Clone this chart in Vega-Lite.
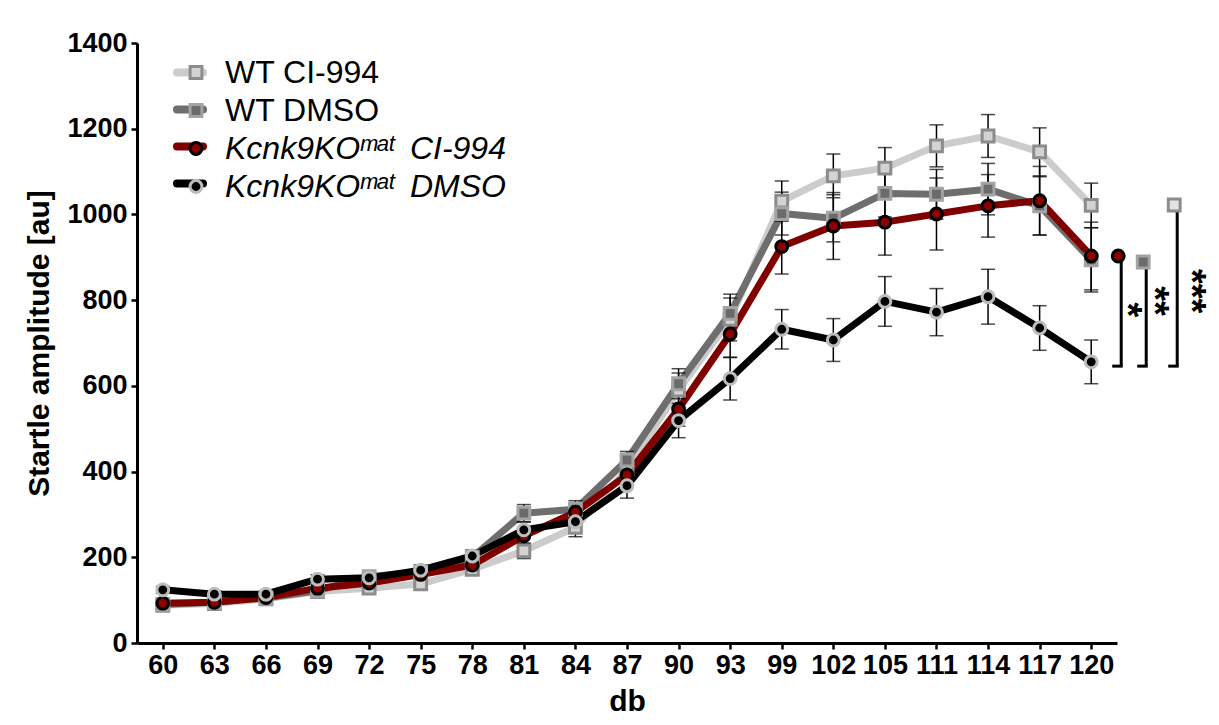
{
  "$schema": "https://vega.github.io/schema/vega-lite/v6.json",
  "width": 980,
  "height": 600,
  "autosize": {"type": "none"},
  "padding": {"left": 137, "top": 43, "right": 102, "bottom": 82},
  "background": "white",
  "config": {
    "view": {"stroke": null},
    "font": "Liberation Sans",
    "axis": {
      "domainColor": "black",
      "domainWidth": 3,
      "tickColor": "black",
      "tickWidth": 2.5,
      "tickSize": 6,
      "labelFont": "Liberation Sans",
      "labelFontSize": 27,
      "labelFontWeight": "bold",
      "labelColor": "black",
      "titleFont": "Liberation Sans",
      "titleFontSize": 30,
      "titleFontWeight": "bold",
      "titleColor": "black",
      "grid": false
    }
  },
  "datasets": {
    "main": [
      {"series": "WT CI-994", "db": 60, "v": 88, "sem": 8},
      {"series": "WT CI-994", "db": 63, "v": 92, "sem": 8},
      {"series": "WT CI-994", "db": 66, "v": 103, "sem": 8},
      {"series": "WT CI-994", "db": 69, "v": 120, "sem": 10},
      {"series": "WT CI-994", "db": 72, "v": 128, "sem": 10},
      {"series": "WT CI-994", "db": 75, "v": 138, "sem": 12},
      {"series": "WT CI-994", "db": 78, "v": 172, "sem": 14},
      {"series": "WT CI-994", "db": 81, "v": 215, "sem": 18},
      {"series": "WT CI-994", "db": 84, "v": 270, "sem": 22},
      {"series": "WT CI-994", "db": 87, "v": 405, "sem": 28},
      {"series": "WT CI-994", "db": 90, "v": 590, "sem": 40},
      {"series": "WT CI-994", "db": 93, "v": 755, "sem": 50},
      {"series": "WT CI-994", "db": 99, "v": 1031, "sem": 47},
      {"series": "WT CI-994", "db": 102, "v": 1090, "sem": 51},
      {"series": "WT CI-994", "db": 105, "v": 1108, "sem": 48},
      {"series": "WT CI-994", "db": 111, "v": 1160, "sem": 49},
      {"series": "WT CI-994", "db": 114, "v": 1183, "sem": 50},
      {"series": "WT CI-994", "db": 117, "v": 1146, "sem": 56},
      {"series": "WT CI-994", "db": 120, "v": 1021, "sem": 52},
      {"series": "WT DMSO", "db": 60, "v": 90, "sem": 8},
      {"series": "WT DMSO", "db": 63, "v": 95, "sem": 8},
      {"series": "WT DMSO", "db": 66, "v": 105, "sem": 8},
      {"series": "WT DMSO", "db": 69, "v": 122, "sem": 10},
      {"series": "WT DMSO", "db": 72, "v": 155, "sem": 12},
      {"series": "WT DMSO", "db": 75, "v": 165, "sem": 12},
      {"series": "WT DMSO", "db": 78, "v": 200, "sem": 15},
      {"series": "WT DMSO", "db": 81, "v": 303, "sem": 20},
      {"series": "WT DMSO", "db": 84, "v": 312, "sem": 20},
      {"series": "WT DMSO", "db": 87, "v": 427, "sem": 20},
      {"series": "WT DMSO", "db": 90, "v": 605, "sem": 35},
      {"series": "WT DMSO", "db": 93, "v": 769, "sem": 45},
      {"series": "WT DMSO", "db": 99, "v": 1002, "sem": 50},
      {"series": "WT DMSO", "db": 102, "v": 991, "sem": 55},
      {"series": "WT DMSO", "db": 105, "v": 1049, "sem": 55},
      {"series": "WT DMSO", "db": 111, "v": 1047, "sem": 58},
      {"series": "WT DMSO", "db": 114, "v": 1059, "sem": 60},
      {"series": "WT DMSO", "db": 117, "v": 1020, "sem": 68},
      {"series": "WT DMSO", "db": 120, "v": 894, "sem": 75},
      {"series": "Kcnk9KO CI-994", "db": 60, "v": 93, "sem": 8},
      {"series": "Kcnk9KO CI-994", "db": 63, "v": 95, "sem": 8},
      {"series": "Kcnk9KO CI-994", "db": 66, "v": 106, "sem": 8},
      {"series": "Kcnk9KO CI-994", "db": 69, "v": 128, "sem": 10},
      {"series": "Kcnk9KO CI-994", "db": 72, "v": 140, "sem": 12},
      {"series": "Kcnk9KO CI-994", "db": 75, "v": 160, "sem": 12},
      {"series": "Kcnk9KO CI-994", "db": 78, "v": 182, "sem": 14},
      {"series": "Kcnk9KO CI-994", "db": 81, "v": 250, "sem": 18},
      {"series": "Kcnk9KO CI-994", "db": 84, "v": 305, "sem": 22},
      {"series": "Kcnk9KO CI-994", "db": 87, "v": 392, "sem": 28},
      {"series": "Kcnk9KO CI-994", "db": 90, "v": 546, "sem": 40},
      {"series": "Kcnk9KO CI-994", "db": 93, "v": 721, "sem": 55},
      {"series": "Kcnk9KO CI-994", "db": 99, "v": 925, "sem": 64},
      {"series": "Kcnk9KO CI-994", "db": 102, "v": 973, "sem": 78},
      {"series": "Kcnk9KO CI-994", "db": 105, "v": 982, "sem": 77},
      {"series": "Kcnk9KO CI-994", "db": 111, "v": 1001, "sem": 84},
      {"series": "Kcnk9KO CI-994", "db": 114, "v": 1020, "sem": 73},
      {"series": "Kcnk9KO CI-994", "db": 117, "v": 1032, "sem": 80},
      {"series": "Kcnk9KO CI-994", "db": 120, "v": 903, "sem": 79},
      {"series": "Kcnk9KO DMSO", "db": 60, "v": 124, "sem": 8},
      {"series": "Kcnk9KO DMSO", "db": 63, "v": 114, "sem": 8},
      {"series": "Kcnk9KO DMSO", "db": 66, "v": 114, "sem": 8},
      {"series": "Kcnk9KO DMSO", "db": 69, "v": 149, "sem": 10},
      {"series": "Kcnk9KO DMSO", "db": 72, "v": 152, "sem": 10},
      {"series": "Kcnk9KO DMSO", "db": 75, "v": 170, "sem": 12},
      {"series": "Kcnk9KO DMSO", "db": 78, "v": 203, "sem": 14},
      {"series": "Kcnk9KO DMSO", "db": 81, "v": 264, "sem": 18},
      {"series": "Kcnk9KO DMSO", "db": 84, "v": 283, "sem": 22},
      {"series": "Kcnk9KO DMSO", "db": 87, "v": 367, "sem": 29},
      {"series": "Kcnk9KO DMSO", "db": 90, "v": 519, "sem": 40},
      {"series": "Kcnk9KO DMSO", "db": 93, "v": 617, "sem": 50},
      {"series": "Kcnk9KO DMSO", "db": 99, "v": 732, "sem": 46},
      {"series": "Kcnk9KO DMSO", "db": 102, "v": 707, "sem": 50},
      {"series": "Kcnk9KO DMSO", "db": 105, "v": 797, "sem": 58},
      {"series": "Kcnk9KO DMSO", "db": 111, "v": 772, "sem": 55},
      {"series": "Kcnk9KO DMSO", "db": 114, "v": 808, "sem": 64},
      {"series": "Kcnk9KO DMSO", "db": 117, "v": 735, "sem": 52},
      {"series": "Kcnk9KO DMSO", "db": 120, "v": 656, "sem": 51}
    ],
    "sig": [
      {"series": "Kcnk9KO CI-994", "db": 120, "top": 903, "bottom": 646, "mid": 777, "stars": "*"},
      {"series": "WT DMSO", "db": 120, "top": 889, "bottom": 646, "mid": 798, "stars": "**"},
      {"series": "WT CI-994", "db": 120, "top": 1022, "bottom": 646, "mid": 821, "stars": "***"}
    ]
  },
  "layer": [
    {
      "data": {"name": "main"},
      "mark": {"type": "line", "strokeWidth": 7, "strokeJoin": "round", "strokeCap": "round"},
      "encoding": {
        "x": {"field": "db", "type": "ordinal", "title": "db",
              "scale": {"type": "point", "padding": 0.5, "domain": [60, 63, 66, 69, 72, 75, 78, 81, 84, 87, 90, 93, 99, 102, 105, 111, 114, 117, 120]},
              "axis": {"labelAngle": 0, "labelPadding": 3, "titlePadding": 8}},
        "y": {"field": "v", "type": "quantitative", "title": "Startle amplitude [au]",
              "scale": {"domain": [0, 1400], "nice": false},
              "axis": {"values": [0, 200, 400, 600, 800, 1000, 1200, 1400], "format": "d", "labelPadding": 4, "titlePadding": 12}},
        "color": {"field": "series", "type": "nominal",
                  "scale": {"range": ["#800000", "#000000", "#cccccc", "#6e6e6e"]},
                  "legend": {"orient": "none", "legendX": 36, "legendY": 14, "title": null,
                             "values": ["WT CI-994", "WT DMSO", "Kcnk9KO CI-994", "Kcnk9KO DMSO"],
                             "labelFont": "Liberation Sans", "labelFontSize": 31, "labelExpr": "''", "rowPadding": 5, "clipHeight": 31,
                             "symbolType": "stroke", "symbolStrokeWidth": 8, "symbolSize": 676,
                             "encode": {"symbols": {"update": {"strokeCap": {"value": "round"}}}}}}
      }
    },
    {
      "data": {"name": "main"},
      "mark": {"type": "errorbar", "ticks": {"size": 14, "thickness": 1.5, "color": "black"}, "rule": {"strokeWidth": 1.5, "color": "black"}},
      "encoding": {
        "x": {"field": "db", "type": "ordinal", "title": "db"},
        "y": {"field": "v", "type": "quantitative", "title": "Startle amplitude [au]"},
        "yError": {"field": "sem"}
      }
    },
    {
      "data": {"name": "main"},
      "mark": {"type": "point", "filled": true, "size": 140, "strokeWidth": 3, "opacity": 1},
      "encoding": {
        "x": {"field": "db", "type": "ordinal", "title": "db"},
        "y": {"field": "v", "type": "quantitative", "title": "Startle amplitude [au]"},
        "fill": {"field": "series", "type": "nominal",
                 "scale": {"domain": ["WT CI-994", "WT DMSO", "Kcnk9KO CI-994", "Kcnk9KO DMSO"], "range": ["#d3d3d3", "#6b6b6b", "#8b0000", "#000000"]},
                 "legend": {"orient": "none", "legendX": 43, "legendY": 14, "title": null,
                            "labelFont": "Liberation Sans", "labelFontSize": 32, "labelColor": "black", "labelLimit": 500, "rowPadding": 5, "clipHeight": 31, "labelOffset": 13,
                            "symbolStrokeWidth": 3, "symbolSize": 140,
                            "labelExpr": "replace(datum.label, 'Kcnk9KO ', 'Kcnk9KO\u1d50\u1d43\u1d57\u2002')",
                            "labelFontStyle": {"expr": "indexof(datum.value, 'Kcnk') >= 0 ? 'italic' : 'normal'"}}},
        "stroke": {"field": "series", "type": "nominal",
                   "scale": {"domain": ["WT CI-994", "WT DMSO", "Kcnk9KO CI-994", "Kcnk9KO DMSO"], "range": ["#8c8c8c", "#a3a3a3", "#000000", "#bdbdbd"]},
                   "legend": {"orient": "none", "legendX": 43, "legendY": 14, "title": null,
                            "labelFont": "Liberation Sans", "labelFontSize": 32, "labelColor": "black", "labelLimit": 500, "rowPadding": 5, "clipHeight": 31, "labelOffset": 13,
                            "symbolStrokeWidth": 3, "symbolSize": 140,
                            "labelExpr": "replace(datum.label, 'Kcnk9KO ', 'Kcnk9KO\u1d50\u1d43\u1d57\u2002')",
                            "labelFontStyle": {"expr": "indexof(datum.value, 'Kcnk') >= 0 ? 'italic' : 'normal'"}}},
        "shape": {"field": "series", "type": "nominal",
                  "scale": {"domain": ["WT CI-994", "WT DMSO", "Kcnk9KO CI-994", "Kcnk9KO DMSO"], "range": ["square", "square", "circle", "circle"]},
                  "legend": {"orient": "none", "legendX": 43, "legendY": 14, "title": null,
                            "labelFont": "Liberation Sans", "labelFontSize": 32, "labelColor": "black", "labelLimit": 500, "rowPadding": 5, "clipHeight": 31, "labelOffset": 13,
                            "symbolStrokeWidth": 3, "symbolSize": 140,
                            "labelExpr": "replace(datum.label, 'Kcnk9KO ', 'Kcnk9KO\u1d50\u1d43\u1d57\u2002')",
                            "labelFontStyle": {"expr": "indexof(datum.value, 'Kcnk') >= 0 ? 'italic' : 'normal'"}}}
      }
    },
    {
      "data": {"name": "sig"},
      "transform": [{"filter": "datum.stars == '*'"}],
      "layer": [
        {"mark": {"type": "rule", "strokeWidth": 3, "color": "black", "xOffset": 30},
         "encoding": {"x": {"field": "db", "type": "ordinal"}, "y": {"field": "top", "type": "quantitative"}, "y2": {"field": "bottom"}}},
        {"mark": {"type": "rule", "strokeWidth": 3, "color": "black", "xOffset": 21, "x2Offset": 31.5},
         "encoding": {"x": {"field": "db", "type": "ordinal"}, "x2": {"field": "db"}, "y": {"field": "bottom", "type": "quantitative"}}},
        {"mark": {"type": "point", "shape": "circle", "filled": true, "fill": "#8b0000", "stroke": "#000000", "strokeWidth": 3, "size": 140, "opacity": 1, "xOffset": 27},
         "encoding": {"x": {"field": "db", "type": "ordinal"}, "y": {"field": "top", "type": "quantitative"}}},
        {"mark": {"type": "text", "angle": 90, "fontSize": 38, "fontWeight": "bold", "font": "Liberation Sans", "color": "black", "align": "center", "baseline": "middle", "xOffset": 35},
         "encoding": {"x": {"field": "db", "type": "ordinal"}, "y": {"field": "mid", "type": "quantitative"}, "text": {"field": "stars"}}}
      ]
    },
    {
      "data": {"name": "sig"},
      "transform": [{"filter": "datum.stars == '**'"}],
      "layer": [
        {"mark": {"type": "rule", "strokeWidth": 3, "color": "black", "xOffset": 55},
         "encoding": {"x": {"field": "db", "type": "ordinal"}, "y": {"field": "top", "type": "quantitative"}, "y2": {"field": "bottom"}}},
        {"mark": {"type": "rule", "strokeWidth": 3, "color": "black", "xOffset": 46, "x2Offset": 56.5},
         "encoding": {"x": {"field": "db", "type": "ordinal"}, "x2": {"field": "db"}, "y": {"field": "bottom", "type": "quantitative"}}},
        {"mark": {"type": "point", "shape": "square", "filled": true, "fill": "#6b6b6b", "stroke": "#a3a3a3", "strokeWidth": 3, "size": 140, "opacity": 1, "xOffset": 52},
         "encoding": {"x": {"field": "db", "type": "ordinal"}, "y": {"field": "top", "type": "quantitative"}}},
        {"mark": {"type": "text", "angle": 90, "fontSize": 38, "fontWeight": "bold", "font": "Liberation Sans", "color": "black", "align": "center", "baseline": "middle", "xOffset": 62},
         "encoding": {"x": {"field": "db", "type": "ordinal"}, "y": {"field": "mid", "type": "quantitative"}, "text": {"field": "stars"}}}
      ]
    },
    {
      "data": {"name": "sig"},
      "transform": [{"filter": "datum.stars == '***'"}],
      "layer": [
        {"mark": {"type": "rule", "strokeWidth": 3, "color": "black", "xOffset": 86},
         "encoding": {"x": {"field": "db", "type": "ordinal"}, "y": {"field": "top", "type": "quantitative"}, "y2": {"field": "bottom"}}},
        {"mark": {"type": "rule", "strokeWidth": 3, "color": "black", "xOffset": 77, "x2Offset": 87.5},
         "encoding": {"x": {"field": "db", "type": "ordinal"}, "x2": {"field": "db"}, "y": {"field": "bottom", "type": "quantitative"}}},
        {"mark": {"type": "point", "shape": "square", "filled": true, "fill": "#e3e3e3", "stroke": "#8c8c8c", "strokeWidth": 3, "size": 140, "opacity": 1, "xOffset": 83},
         "encoding": {"x": {"field": "db", "type": "ordinal"}, "y": {"field": "top", "type": "quantitative"}}},
        {"mark": {"type": "text", "angle": 90, "fontSize": 38, "fontWeight": "bold", "font": "Liberation Sans", "color": "black", "align": "center", "baseline": "middle", "xOffset": 99},
         "encoding": {"x": {"field": "db", "type": "ordinal"}, "y": {"field": "mid", "type": "quantitative"}, "text": {"field": "stars"}}}
      ]
    }
  ]
}
